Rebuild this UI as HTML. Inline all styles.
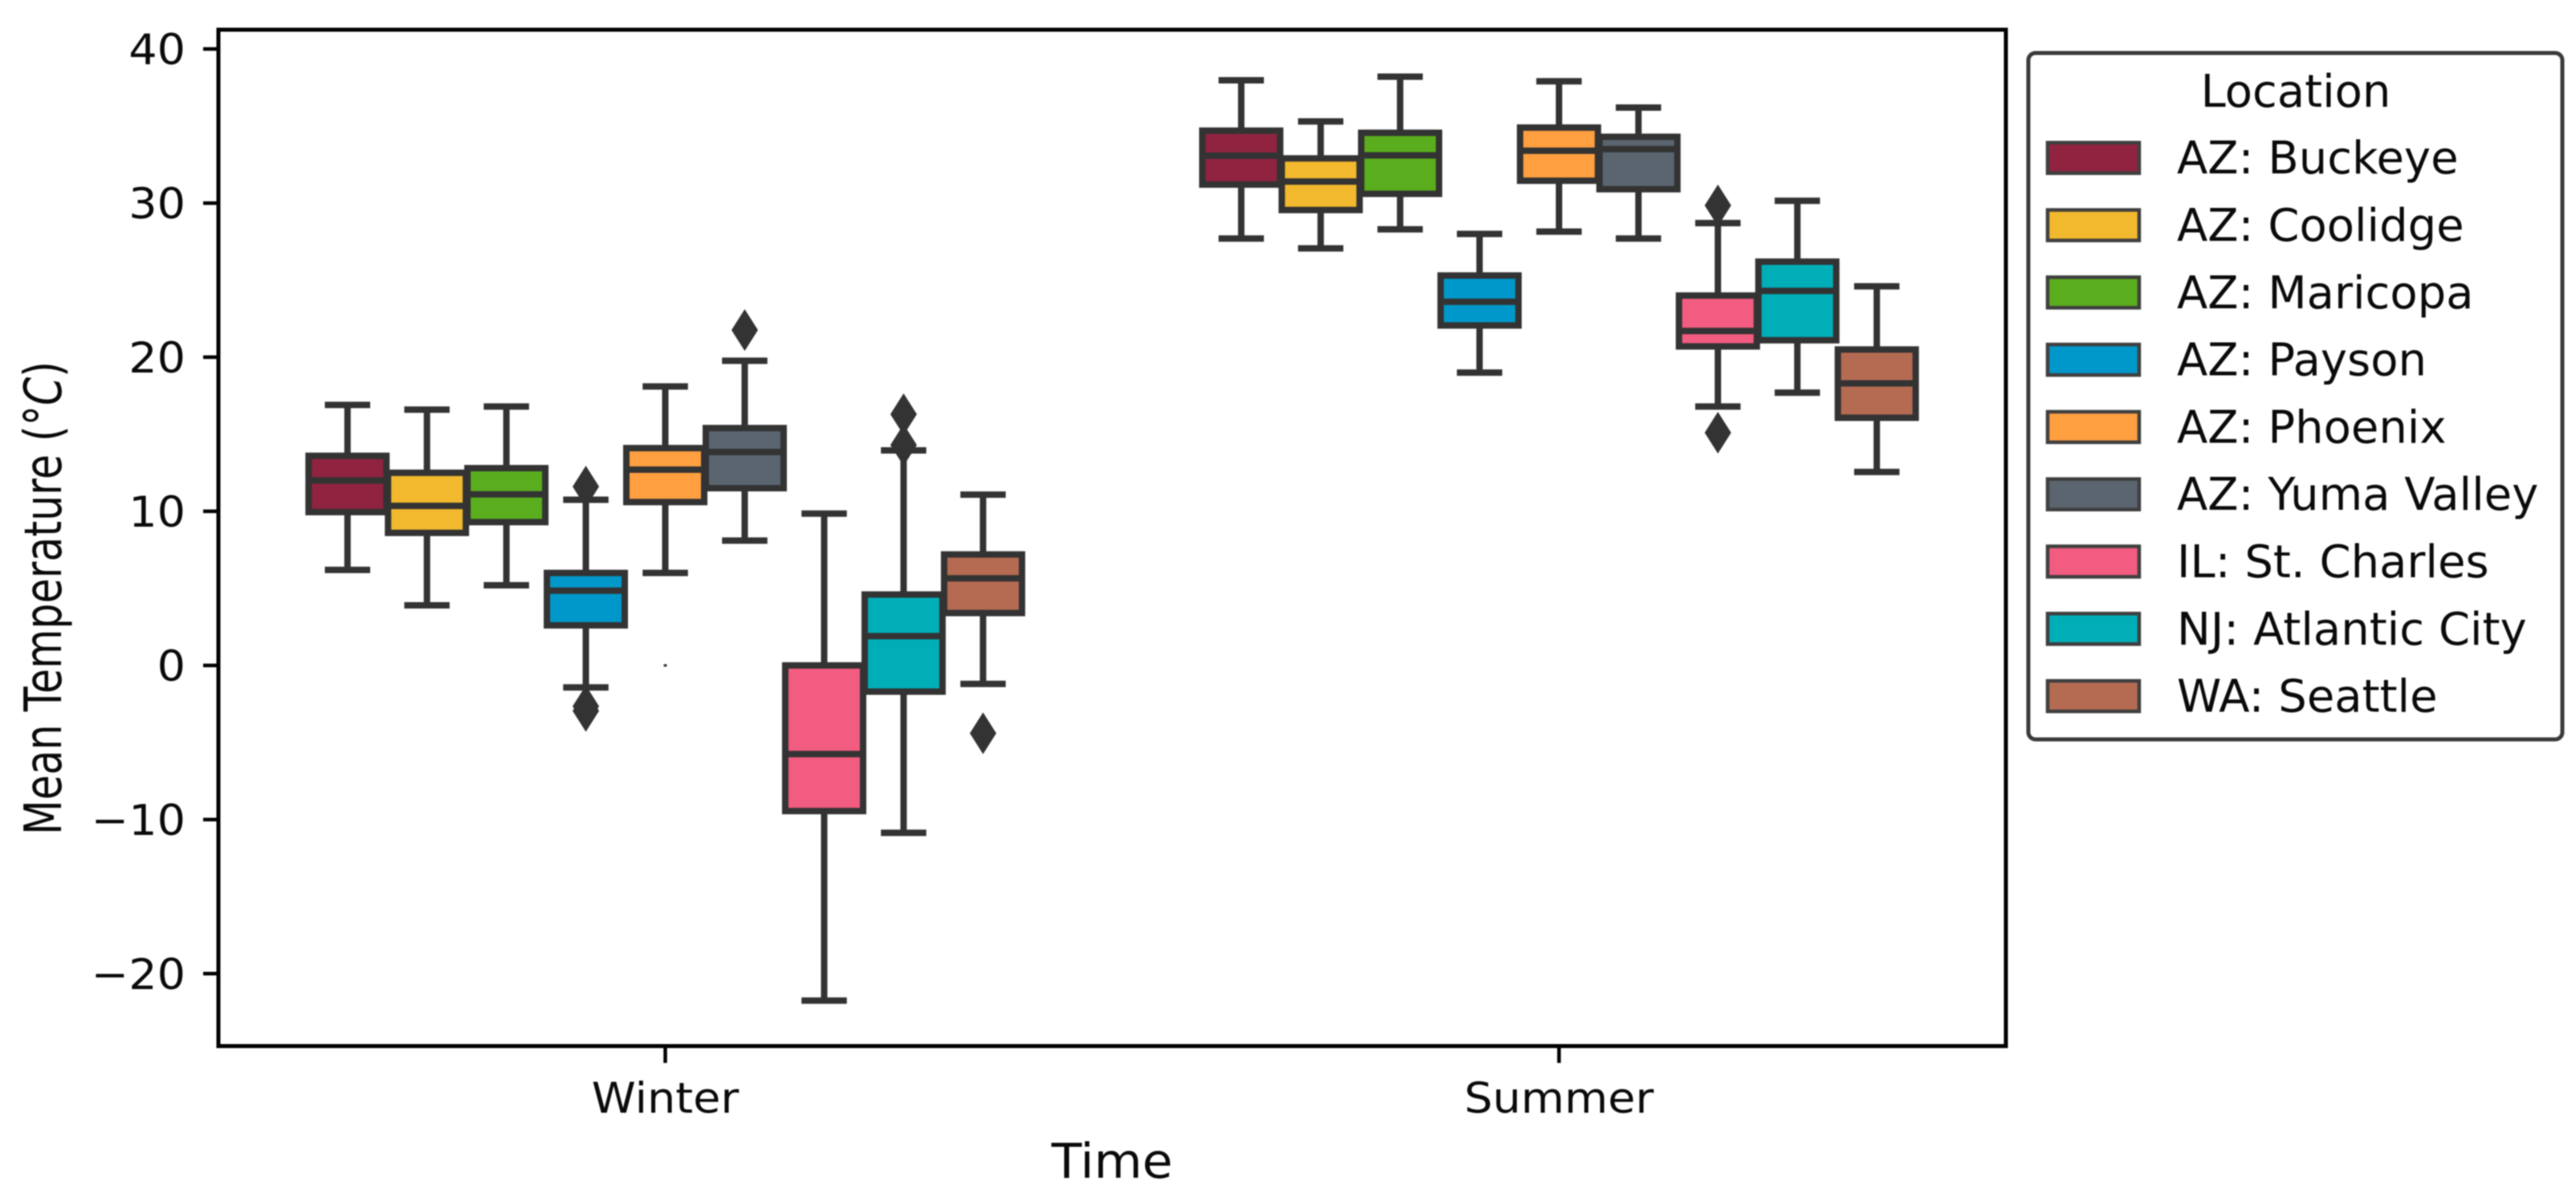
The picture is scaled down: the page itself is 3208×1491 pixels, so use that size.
<!DOCTYPE html>
<html lang="en">
<head>
<meta charset="utf-8">
<title>Mean Temperature by Location</title>
<style>
html,body{margin:0;padding:0;background:#fff;}
svg{display:block;font-family:"DejaVu Sans","Liberation Sans",sans-serif;}
#chart-content{filter:blur(0.7px);}
</style>
</head>
<body>
<svg id="chart" xmlns="http://www.w3.org/2000/svg" width="3208" height="1491" viewBox="0 0 3208 1491">
  <rect x="0" y="0" width="3208" height="1491" fill="#fff"/>
  <g id="chart-content">
  <g id="marks"></g>
  <g id="axes"></g>
  <text x="1385" y="1467" font-size="60" text-anchor="middle" fill="#0a0a0a" textLength="151" lengthAdjust="spacingAndGlyphs">Time</text>
  <text transform="translate(76,745) rotate(-90)" font-size="64" text-anchor="middle" fill="#0a0a0a" textLength="590" lengthAdjust="spacingAndGlyphs">Mean Temperature (°<tspan font-style="italic">C</tspan>)</text>
  <g id="legend"></g>
  </g>
</svg>
<script>
const categories = ["Winter", "Summer"];
const locations = ["AZ: Buckeye", "AZ: Coolidge", "AZ: Maricopa", "AZ: Payson", "AZ: Phoenix", "AZ: Yuma Valley", "IL: St. Charles", "NJ: Atlantic City", "WA: Seattle"];
const colors = ["#8f2340", "#f3b92e", "#5aae1e", "#0098ca", "#ff9f40", "#5a6570", "#f25c80", "#00aeb8", "#b56b52"];

const winterHigh = [16.9, 16.6, 16.8, 10.75, 18.1, 19.77, 9.85, 13.95, 11.08];
const winterQ3 = [13.6, 12.5, 12.8, 6.0, 14.1, 15.4, 0.0, 4.6, 7.2];
const winterMedian = [12.0, 10.35, 11.1, 4.85, 12.7, 13.85, -5.75, 1.9, 5.65];
const winterQ1 = [9.95, 8.6, 9.3, 2.6, 10.6, 11.5, -9.45, -1.7, 3.4];
const winterLow = [6.2, 3.9, 5.2, -1.43, 6.0, 8.1, -21.75, -10.86, -1.2];
const winterOutliers = [[], [], [], [11.6, -2.65, -2.95], [], [21.76], [], [16.3, 14.3], [-4.4]];

const summerHigh = [37.97, 35.3, 38.2, 28.0, 37.9, 36.2, 28.7, 30.15, 24.6];
const summerQ3 = [34.7, 32.9, 34.56, 25.3, 34.9, 34.3, 24.0, 26.2, 20.5];
const summerMedian = [33.08, 31.4, 33.1, 23.6, 33.4, 33.5, 21.7, 24.3, 18.3];
const summerQ1 = [31.2, 29.55, 30.6, 22.06, 31.45, 30.9, 20.7, 21.1, 16.07];
const summerLow = [27.7, 27.06, 28.3, 19.0, 28.15, 27.7, 16.8, 17.7, 12.55];
const summerOutliers = [[], [], [], [], [], [], [29.85, 15.1], [], []];

const strayPoints = [0];
const yTicks = [-20, -10, 0, 10, 20, 30, 40];

const NS = "http://www.w3.org/2000/svg";
const plot = { left: 272, right: 2498, top: 37, bottom: 1303 };
const yDomain = [-24.7, 41.25];
const xDomain = [-0.5, 1.5];
const ink = "#333333";

function yScale(v) {
  return plot.bottom - (v - yDomain[0]) / (yDomain[1] - yDomain[0]) * (plot.bottom - plot.top);
}
function xScale(v) {
  return plot.left + (v - xDomain[0]) / (xDomain[1] - xDomain[0]) * (plot.right - plot.left);
}
function hueOffset(i) {
  return (i - (locations.length - 1) / 2) * (0.8 / locations.length);
}
function make(tag, attrs, parent) {
  const el = document.createElementNS(NS, tag);
  for (const k in attrs) el.setAttribute(k, attrs[k]);
  parent.appendChild(el);
  return el;
}

const marks = document.getElementById("marks");
const axes = document.getElementById("axes");
const legend = document.getElementById("legend");

const periods = [
  { high: winterHigh, q3: winterQ3, median: winterMedian, q1: winterQ1, low: winterLow, outliers: winterOutliers },
  { high: summerHigh, q3: summerQ3, median: summerMedian, q1: summerQ1, low: summerLow, outliers: summerOutliers }
];

const boxWidth = xScale(0.8 / locations.length * 0.98) - xScale(0);
const capWidth = boxWidth * 0.5;
const strokeW = 8;

periods.forEach(function (period, c) {
  locations.forEach(function (loc, i) {
    const cx = xScale(c + hueOffset(i));
    const group = make("g", {}, marks);
    
    
    const lineStyle = { stroke: ink, "stroke-width": strokeW, fill: "none" };

    const whiskerHigh = make("line", Object.assign({ x1: cx, x2: cx, y1: yScale(period.q3[i]), y2: yScale(period.high[i]) }, lineStyle), group);
    
    
    const whiskerLow = make("line", Object.assign({ x1: cx, x2: cx, y1: yScale(period.q1[i]), y2: yScale(period.low[i]) }, lineStyle), group);
    
    
    const capHigh = make("line", Object.assign({ x1: cx - capWidth / 2, x2: cx + capWidth / 2, y1: yScale(period.high[i]), y2: yScale(period.high[i]), "stroke-linecap": "square" }, lineStyle), group);
    
    
    const capLow = make("line", Object.assign({ x1: cx - capWidth / 2, x2: cx + capWidth / 2, y1: yScale(period.low[i]), y2: yScale(period.low[i]), "stroke-linecap": "square" }, lineStyle), group);
    
    

    const box = make("rect", {
      x: cx - boxWidth / 2,
      y: yScale(period.q3[i]),
      width: boxWidth,
      height: yScale(period.q1[i]) - yScale(period.q3[i]),
      fill: colors[i],
      stroke: ink,
      "stroke-width": strokeW
    }, group);
    
    

    const median = make("line", Object.assign({ x1: cx - boxWidth / 2, x2: cx + boxWidth / 2, y1: yScale(period.median[i]), y2: yScale(period.median[i]) }, lineStyle), group);
    
    

    period.outliers[i].forEach(function (v) {
      const py = yScale(v);
      const d = "M" + cx + " " + (py - 26) + "L" + (cx + 16.5) + " " + py + "L" + cx + " " + (py + 26) + "L" + (cx - 16.5) + " " + py + "Z";
      const flier = make("path", { d: d, fill: ink }, group);
      
      
    });
  });
});

strayPoints.forEach(function (v) {
  const dot = make("rect", { x: xScale(0) - 2, y: yScale(v) - 1.5, width: 4, height: 3, fill: ink }, marks);
  
  
});

const frame = make("rect", { x: plot.left, y: plot.top, width: plot.right - plot.left, height: plot.bottom - plot.top, fill: "none", stroke: "#000", "stroke-width": 5 }, axes);



yTicks.forEach(function (t) {
  const py = yScale(t);
  const tick = make("line", { x1: plot.left - 19, x2: plot.left, y1: py, y2: py, stroke: "#000", "stroke-width": 4.5 }, axes);
  
  
  const label = make("text", { transform: "translate(231," + (py + 19) + ") scale(1.05,1)", "text-anchor": "end", "font-size": 53, fill: "#0a0a0a" }, axes);
  
  
  label.textContent = String(t).replace("-", "\u2212");
});

categories.forEach(function (name, c) {
  const px = xScale(c);
  const tick = make("line", { x1: px, x2: px, y1: plot.bottom, y2: plot.bottom + 21, stroke: "#000", "stroke-width": 4.5 }, axes);
  
  
  const label = make("text", { transform: "translate(" + px + ",1386) scale(1.05,1)", "text-anchor": "middle", "font-size": 53, fill: "#0a0a0a" }, axes);
  
  
  label.textContent = name;
});

const legendFrame = make("rect", { x: 2526, y: 66, width: 665, height: 855, rx: 9, ry: 9, fill: "#fff", stroke: "#3a3a3a", "stroke-width": 5 }, legend);



const legendTitle = make("text", { x: 2859, y: 133, "text-anchor": "middle", "font-size": 56, fill: "#0a0a0a" }, legend);


legendTitle.textContent = "Location";

locations.forEach(function (loc, i) {
  const rowY = 196.7 + i * 83.8;
  const swatch = make("rect", { x: 2550, y: rowY - 19, width: 114, height: 38, fill: colors[i], stroke: "#3f3f3f", "stroke-width": 4.5 }, legend);
  
  
  const label = make("text", { x: 2711, y: rowY + 19.5, "font-size": 56, fill: "#0a0a0a" }, legend);
  
  
  label.textContent = loc;
});
</script>
</body>
</html>
